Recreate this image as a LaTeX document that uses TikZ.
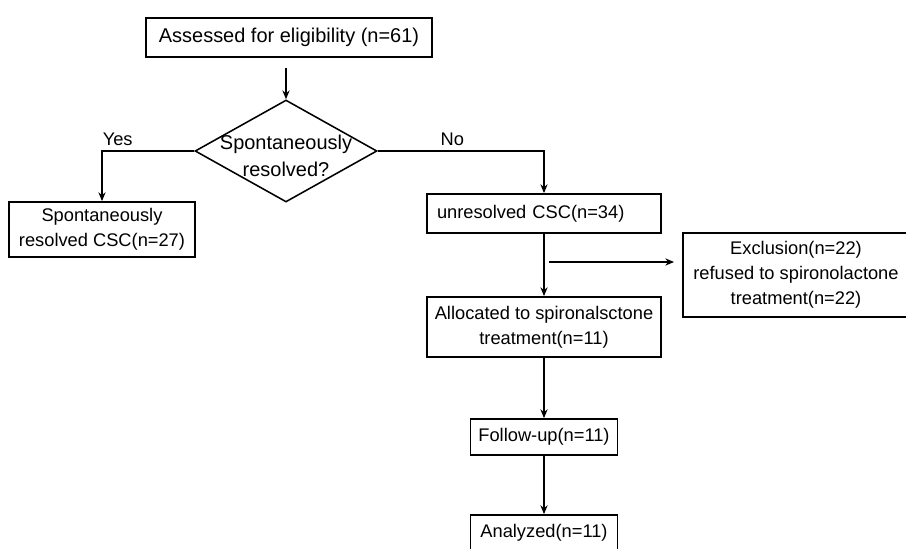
\documentclass[tikz,border=0pt]{standalone}
\usepackage{fontspec}
\setmainfont{Liberation Sans}
\usetikzlibrary{arrows.meta,shapes.geometric}
\begin{document}
\begin{tikzpicture}[font=\fontsize{13}{17.8}\selectfont]
\tikzstyle{question}=[diamond,draw,line width=1.1pt,minimum width=4.55cm,minimum height=2.55cm,inner sep=0pt]
\tikzstyle{box}=[rectangle,draw,line width=1.3pt,align=center,inner sep=0pt]
\tikzstyle{arrow}=[-{Stealth[length=2.2mm,width=1.8mm]},line width=1pt]
\useasboundingbox (0,0) rectangle (22.65,-13.7);
\node (n1) [box,minimum width=7.15cm,minimum height=0.975cm,font=\fontsize{14.2}{19}\selectfont] at (7.225,-0.9375) {Assessed for eligibility (n=61)};
\node (n2) [question,label={[align=center,yshift=-0.12cm,font=\fontsize{14.2}{19}\selectfont]center:Spontaneously\\resolved?}] at (7.15,-3.775) {};
\node (n3) [box,minimum width=4.65cm,minimum height=1.375cm] at (2.55,-5.7375) {Spontaneously\\resolved CSC(n=27)};
\node (n4) [box,text width=5.35cm,align=left,inner xsep=0.25cm,minimum height=0.975cm] at (13.6,-5.3375) {unresolved CSC(n=34)};
\node (n5) [box,minimum width=5.65cm,minimum height=2.1cm] at (19.9,-6.875) {Exclusion(n=22)\\refused to spironolactone\\treatment(n=22)};
\node (n6) [box,minimum width=5.85cm,minimum height=1.5cm] at (13.6,-8.175) {Allocated to spironalsctone\\treatment(n=11)};
\node (n7) [box,minimum width=3.675cm,minimum height=0.9cm] at (13.6,-10.925) {Follow-up(n=11)};
\node (n8) [box,minimum width=3.675cm,minimum height=0.9cm] at (13.6,-13.325) {Analyzed(n=11)};
\coordinate (ex) at (13.725,-6.55);
\draw [arrow,shorten <=0.25cm] (n2.north |- n1.south) -- (n2.north);
\draw [arrow] (n2.west) -| node (yes) [pos=0.415,above] {Yes} (n3.north);
\draw [arrow] (n2.east) -| node (no) [pos=0.2245,above] {No} (n4.north);
\draw [arrow] (n4.south) -- (n6.north);
\draw [arrow,shorten >=0.2cm] (ex) -- (ex -| n5.west);
\draw [arrow] (n6.south) -- (n7.north);
\draw [arrow] (n7.south) -- (n8.north);
\end{tikzpicture}
\end{document}
